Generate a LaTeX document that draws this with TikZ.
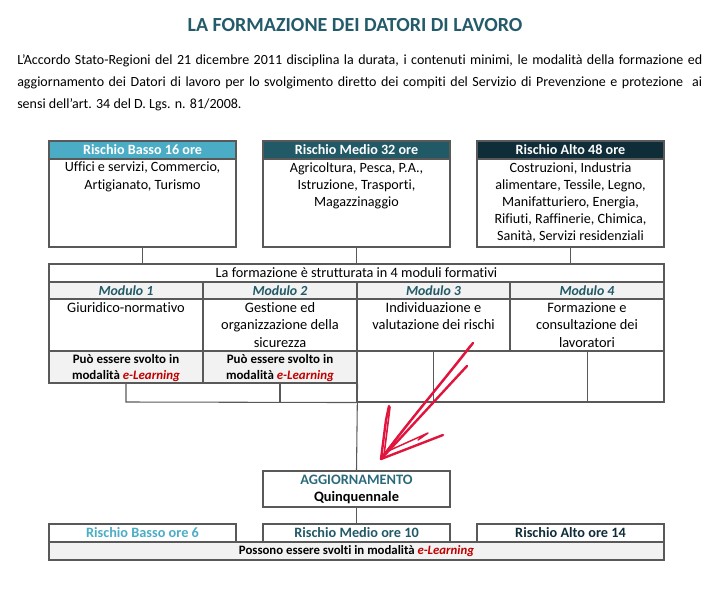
\documentclass[tikz,border=0pt]{standalone}
\usepackage{fontspec}
\setmainfont{Carlito}[Ligatures=NoCommon]
\usetikzlibrary{fit}
\definecolor{bordc}{HTML}{595959}
\definecolor{greyf}{HTML}{F2F2F2}
\definecolor{lblue}{HTML}{4BACC6}
\definecolor{mteal}{HTML}{215967}
\definecolor{dteal}{HTML}{0F2D38}
\definecolor{titlec}{HTML}{245B6A}
\definecolor{aggc}{HTML}{2B6A7C}
\definecolor{elred}{HTML}{C00000}
\definecolor{arrowred}{HTML}{E0143C}
\begin{document}
\begin{tikzpicture}[x=0.75pt,y=-0.75pt,
  cell/.style={draw=bordc, line width=0.8pt, inner sep=0pt},
  conn/.style={draw=bordc, line width=0.8pt},
  hdrtext/.style={text=white, font=\fontsize{10.6}{12}\selectfont\bfseries},
  bodytext/.style={font=\fontsize{10.6}{12.9}\selectfont, align=center, anchor=north, inner sep=0pt},
  modbody/.style={font=\fontsize{10.8}{13.1}\selectfont, align=center, anchor=north, inner sep=0pt},
  modlabel/.style={text=mteal, font=\fontsize{10.4}{12}\selectfont\bfseries\itshape},
  eltext/.style={font=\fontsize{9.7}{12}\selectfont\bfseries, align=center, anchor=north, inner sep=0pt},
  bottext/.style={font=\fontsize{10.7}{12}\selectfont\bfseries},
  redstroke/.style={draw=arrowred, line width=1.8pt, line cap=round, line join=round},
  paraline/.style={anchor=base west, inner sep=0pt, font=\fontsize{10.5}{12}\selectfont}]
\useasboundingbox (0,0) rectangle (720,591);
\newcommand{\elearn}{\textcolor{elred}{\textit{e-Learning}}}

% title and paragraph
\node[text=titlec, font=\fontsize{15}{18}\selectfont\bfseries] (title) at (355,25) {LA FORMAZIONE DEI DATORI DI LAVORO};
\node[paraline] (p1) at (17,65) {\hbox to 513.75pt{L’Accordo Stato-Regioni del 21 dicembre 2011 disciplina la durata, i contenuti minimi, le modalità della formazione ed}};
\node[paraline] (p2) at (17,87) {\hbox to 513.75pt{aggiornamento dei Datori di lavoro per lo svolgimento diretto dei compiti del Servizio di Prevenzione e protezione\ \ ai}};
\node[paraline] (p3) at (17,109) {sensi dell’art. 34 del D. Lgs. n. 81/2008.};

% top boxes
\node[cell, fill=lblue, fit={(49,141)(236,159)}] (bh) {};
\node[cell, fit={(49,159)(236,247)}] (bb) {};
\node[hdrtext] at (bh.center) (bht) {Rischio Basso 16 ore};
\node[bodytext] (bbt) at (142.5,162) {Uffici e servizi, Commercio,\\Artigianato, Turismo};

\node[cell, fill=mteal, fit={(263,141)(450,159)}] (mh) {};
\node[cell, fit={(263,159)(450,247)}] (mb) {};
\node[hdrtext] at (mh.center) (mht) {Rischio Medio 32 ore};
\node[bodytext] (mbt) at (356.5,162) {Agricoltura, Pesca, P.A.,\\Istruzione, Trasporti,\\Magazzinaggio};

\node[cell, fill=dteal, fit={(477,141)(664,159)}] (ah) {};
\node[cell, fit={(477,159)(664,247)}] (ab) {};
\node[hdrtext] at (ah.center) (aht) {Rischio Alto 48 ore};
\node[bodytext] (abt) at (570.5,162) {Costruzioni, Industria\\alimentare, Tessile, Legno,\\Manifatturiero, Energia,\\Rifiuti, Raffinerie, Chimica,\\Sanità, Servizi residenziali};

% module table
\node[cell, fit={(49,264)(664,282)}] (rowa) {};
\node[font=\fontsize{10.7}{12}\selectfont] (rowat) at (rowa.center) {La formazione è strutturata in 4 moduli formativi};

\node[cell, fill=greyf, fit={(49,282)(203,299)}] (m1h) {};
\node[cell, fill=greyf, fit={(203,282)(357,299)}] (m2h) {};
\node[cell, fill=greyf, fit={(357,282)(510,299)}] (m3h) {};
\node[cell, fill=greyf, fit={(510,282)(664,299)}] (m4h) {};
\node[modlabel] (m1l) at (m1h.center) {Modulo 1};
\node[modlabel] (m2l) at (m2h.center) {Modulo 2};
\node[modlabel] (m3l) at (m3h.center) {Modulo 3};
\node[modlabel] (m4l) at (m4h.center) {Modulo 4};

\node[cell, fit={(49,299)(203,351)}] (m1c) {};
\node[cell, fit={(203,299)(357,351)}] (m2c) {};
\node[cell, fit={(357,299)(510,351)}] (m3c) {};
\node[cell, fit={(510,299)(664,351)}] (m4c) {};
\node[modbody] (m1t) at (126,302) {Giuridico-normativo};
\node[modbody] (m2t) at (280,302) {Gestione ed\\organizzazione della\\sicurezza};
\node[modbody] (m3t) at (433.5,302) {Individuazione e\\valutazione dei rischi};
\node[modbody] (m4t) at (587,302) {Formazione e\\consultazione dei\\lavoratori};

\node[cell, fill=greyf, fit={(49,351)(203,383)}] (m1e) {};
\node[cell, fill=greyf, fit={(203,351)(357,383)}] (m2e) {};
\node[eltext] (m1et) at (126,354) {Può essere svolto in\\modalità \elearn};
\node[eltext] (m2et) at (280,354) {Può essere svolto in\\modalità \elearn};
\node[cell, fit={(357,351)(664,402)}] (m34e) {};

% bus connectors
\coordinate (b1) at (126,402);
\coordinate (b2) at (280,402);
\coordinate (b3) at (433.5,351);
\coordinate (b3b) at (433.5,402);
\coordinate (b4) at (587.5,351);
\coordinate (b4b) at (587.5,402);
\draw[conn] (m1e.south -| b1) -- (b1) -- (m34e.south west);
\draw[conn] (m2e.south -| b2) -- (b2);
\draw[conn] (b3) -- (b3b);
\draw[conn] (b4) -- (b4b);

% top connectors
\draw[conn] (bb.south) -- (bb.south |- rowa.north);
\draw[conn] (mb.south) -- (mb.south |- rowa.north);
\draw[conn] (ab.south) -- (ab.south |- rowa.north);

% aggiornamento
\node[cell, fit={(263,471)(450,507)}] (agg) {};
\node[text=aggc, font=\fontsize{10.8}{12}\selectfont\bfseries] (aggt1) at (356.5,480) {AGGIORNAMENTO};
\node[font=\fontsize{10.8}{12}\selectfont\bfseries] (aggt2) at (356.5,498) {Quinquennale};
\draw[conn] (m2e.south east) -- (agg.north);

% bottom boxes
\node[cell, fit={(49,524)(236,542)}] (bb6) {};
\node[cell, fit={(263,524)(450,542)}] (bm10) {};
\node[cell, fit={(477,524)(664,542)}] (ba14) {};
\node[bottext, text=lblue] (bb6t) at (bb6.center) {Rischio Basso ore 6};
\node[bottext, text=mteal] (bm10t) at (bm10.center) {Rischio Medio ore 10};
\node[bottext, text=dteal] (ba14t) at (ba14.center) {Rischio Alto ore 14};
\node[cell, fill=greyf, fit={(49,542)(664,560)}] (poss) {};
\node[font=\fontsize{9.6}{12}\selectfont\bfseries] (posst) at (poss.center) {Possono essere svolti in modalità \elearn};
\draw[conn] (agg.south) -- (bm10.north);

% red hand-drawn arrow
\coordinate (tip) at (381,459);
\draw[redstroke] (473,343) .. controls (440,385) and (410,420) .. (tip);
\draw[redstroke, line width=1.2pt] (470,346) .. controls (438,388) and (408,422) .. (383,456);
\draw[redstroke] (467,366) .. controls (440,395) and (410,428) .. (tip);
\draw[redstroke] (tip) -- (386,420) -- (389,406);
\draw[redstroke, line width=1.2pt] (384,455) -- (390,407);
\draw[redstroke] (tip) -- (443,435);
\draw[redstroke, line width=1.1pt] (386,452) -- (428,433) -- (418,440);
\end{tikzpicture}
\end{document}
